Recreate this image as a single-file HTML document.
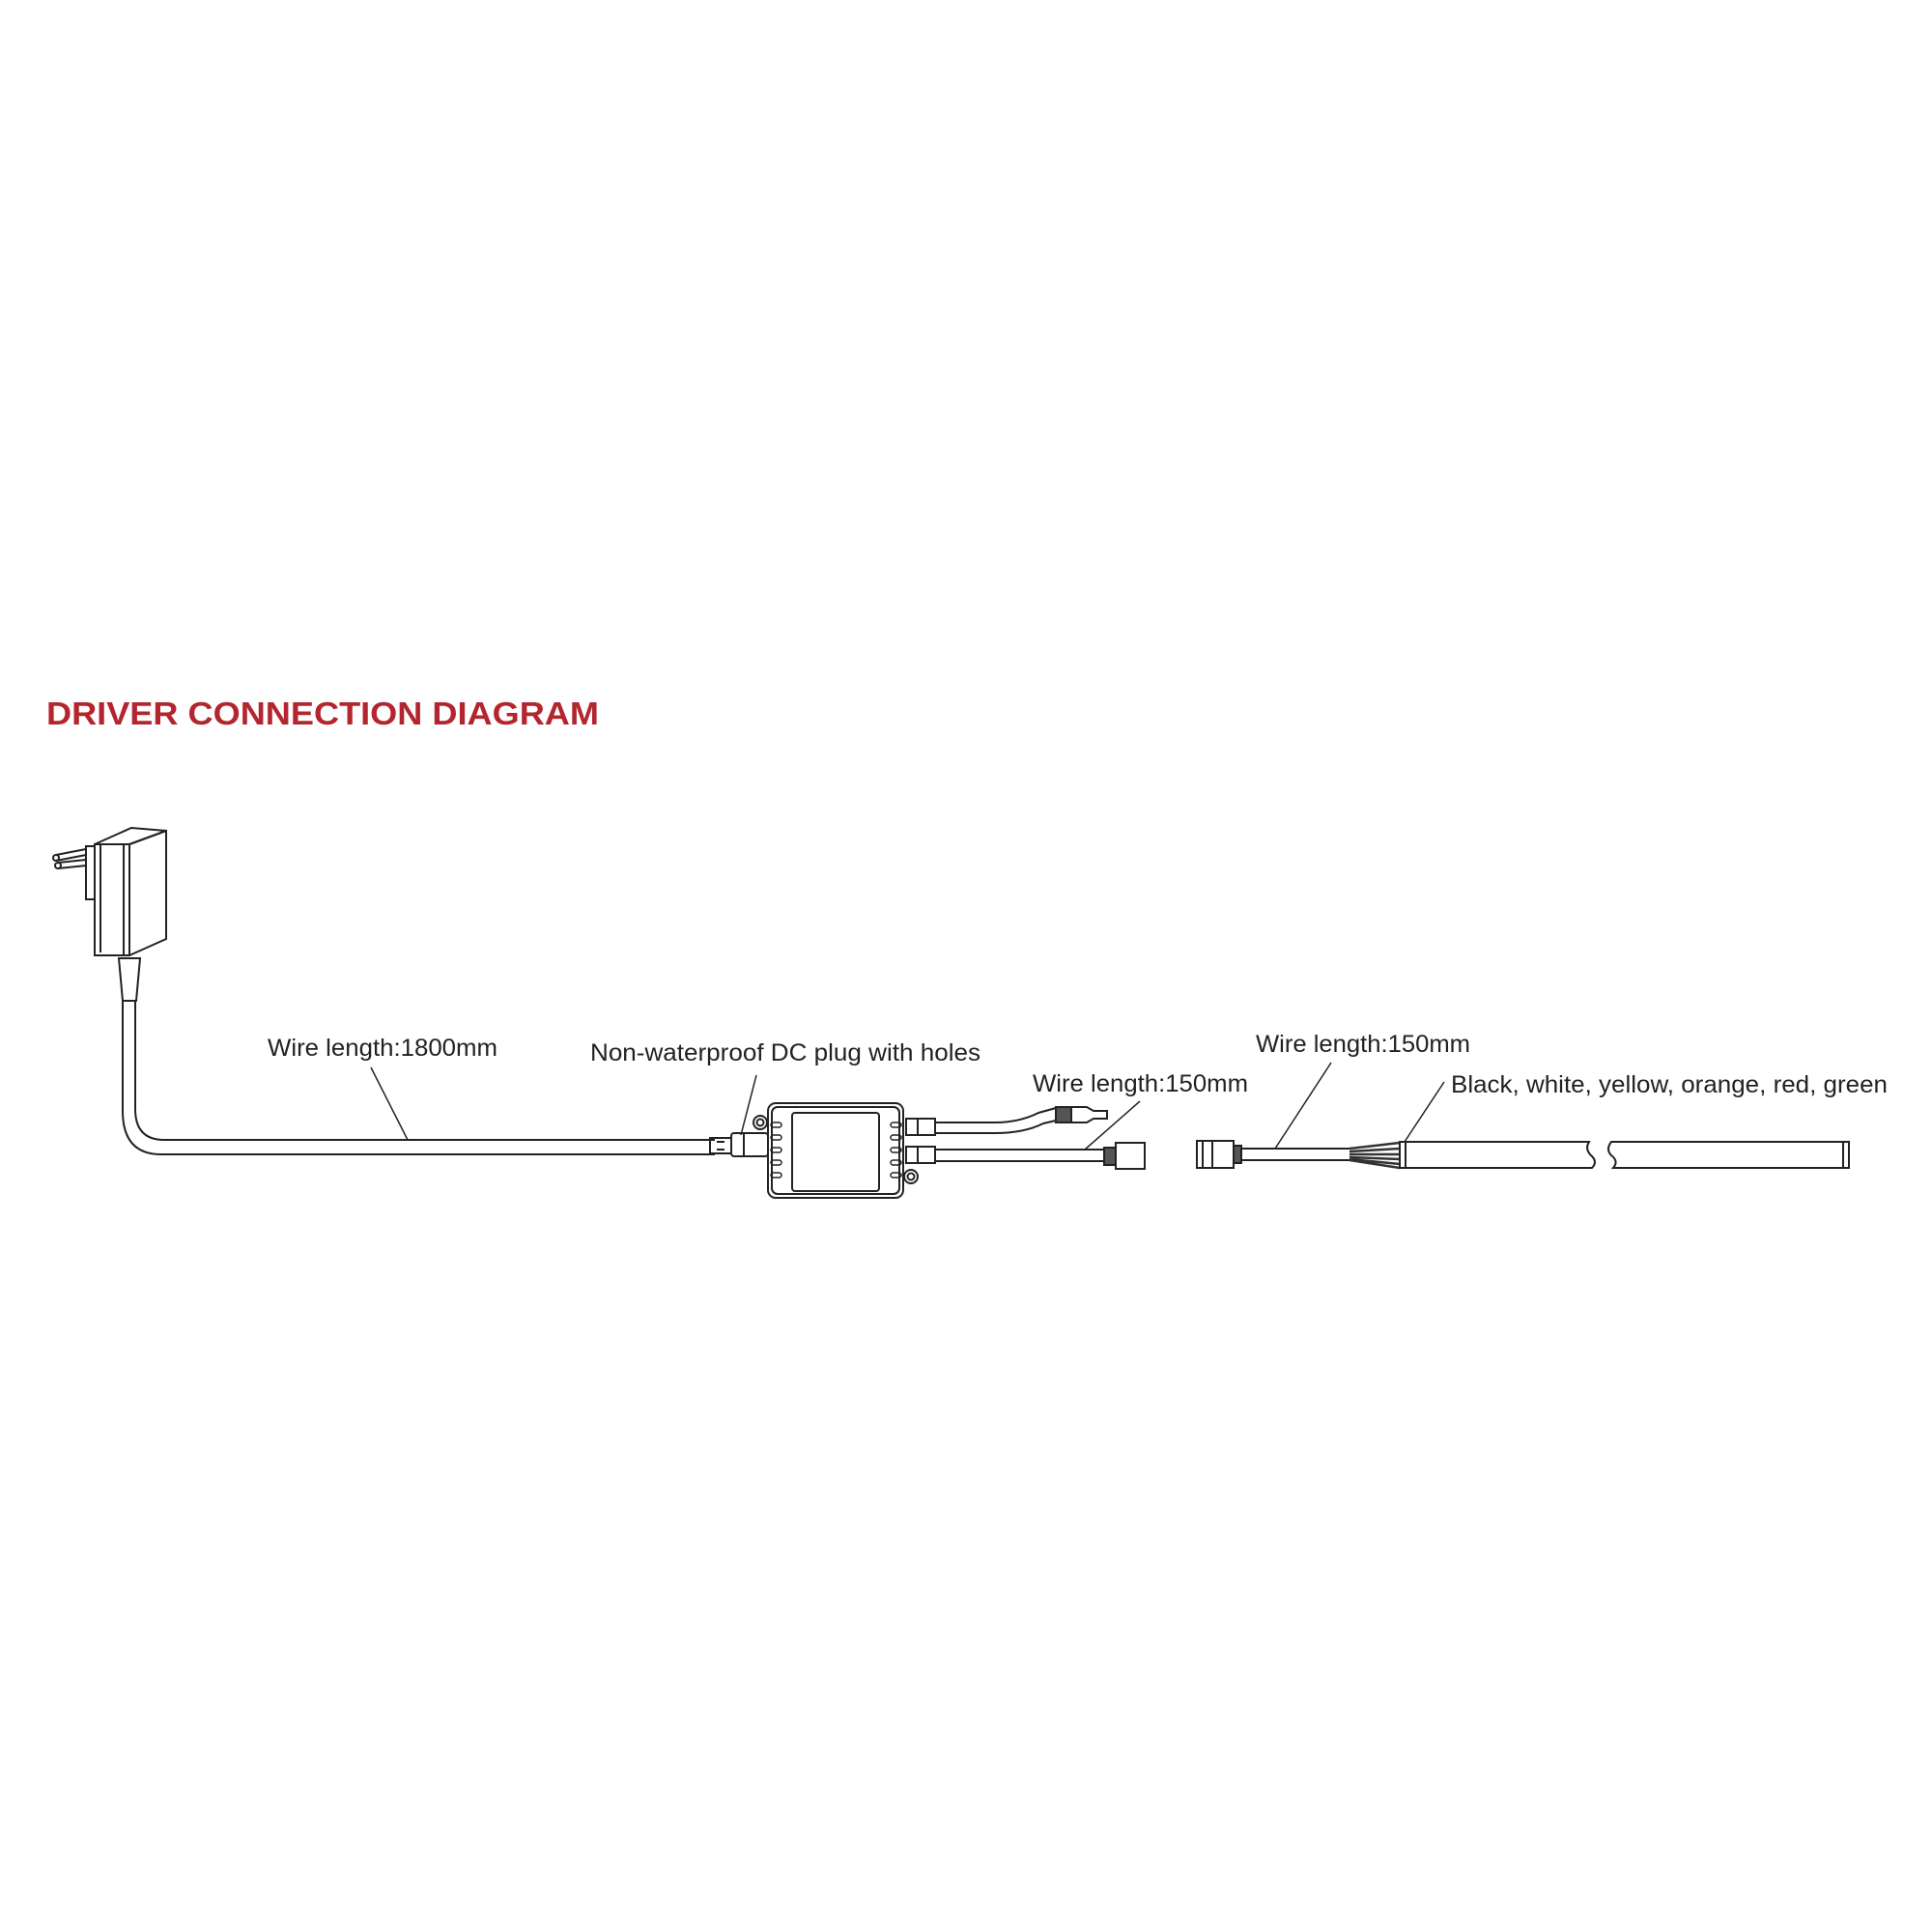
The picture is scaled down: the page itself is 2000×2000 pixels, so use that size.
<!DOCTYPE html>
<html><head><meta charset="utf-8"><style>html,body{margin:0;padding:0;background:#fff}svg{display:block}</style></head>
<body>
<svg width="2000" height="2000" viewBox="0 0 2000 2000" xmlns="http://www.w3.org/2000/svg">
<rect width="2000" height="2000" fill="#fff"/>
<text x="48" y="750" font-family="Liberation Sans, sans-serif" font-weight="bold" font-size="33" fill="#b3252f" textLength="572" lengthAdjust="spacingAndGlyphs">DRIVER CONNECTION DIAGRAM</text>
<g fill="none" stroke="#222" stroke-width="2" font-family="Liberation Sans, sans-serif">
<!-- adapter -->
<path d="M98 874 L134 874 L134 989 L98 989 Z" fill="#fff"/>
<path d="M98 874 L136 857 L172 860 L134 874"/>
<path d="M134 874 L172 860 L172 972 L134 989"/>
<path d="M104 874 L104 986 M128 874 L128 989"/>
<path d="M89 876 L98 876 L98 931 L89 931 Z"/>
<path d="M58 885 L89 879 M58 891 L89 885 M60 893 L89 890 M60 899 L89 896"/>
<circle cx="58" cy="888" r="3"/><circle cx="60" cy="896" r="3"/>
<!-- strain relief -->
<path d="M123 992 L145 992 L141 1036 L127 1036 Z"/>
<!-- main cable -->
<path d="M127 1036 L127 1150 Q127 1195 167 1195 L740 1195"/>
<path d="M140 1036 L140 1148 Q140 1180 170 1180 L740 1180"/>
<!-- DC plug -->
<rect x="735" y="1178" width="22" height="16"/>
<rect x="757" y="1173" width="38" height="24" rx="3"/>
<path d="M742 1182 L750 1182 M742 1190 L750 1190 M770 1173 L770 1197"/>
<!-- controller box -->
<rect x="795" y="1142" width="140" height="98" rx="8" fill="#fff"/>
<rect x="799" y="1146" width="132" height="90" rx="6"/>
<rect x="820" y="1152" width="90" height="81" rx="3"/>
<circle cx="787" cy="1162" r="7" fill="#fff"/><circle cx="787" cy="1162" r="3.5"/>
<circle cx="943" cy="1218" r="7" fill="#fff"/><circle cx="943" cy="1218" r="3.5"/>
<g stroke-width="1.5">
<rect x="798" y="1162" width="11" height="5" rx="2.5"/><rect x="798" y="1175" width="11" height="5" rx="2.5"/><rect x="798" y="1188" width="11" height="5" rx="2.5"/><rect x="798" y="1201" width="11" height="5" rx="2.5"/><rect x="798" y="1214" width="11" height="5" rx="2.5"/>
<rect x="922" y="1162" width="11" height="5" rx="2.5"/><rect x="922" y="1175" width="11" height="5" rx="2.5"/><rect x="922" y="1188" width="11" height="5" rx="2.5"/><rect x="922" y="1201" width="11" height="5" rx="2.5"/><rect x="922" y="1214" width="11" height="5" rx="2.5"/>
</g>
<!-- outputs -->
<rect x="938" y="1158" width="30" height="17"/><path d="M950 1158 L950 1175"/>
<rect x="938" y="1187" width="30" height="17"/><path d="M950 1187 L950 1204"/>
<path d="M968 1162 L1030 1162 Q1055 1162 1075 1152 L1093 1147"/>
<path d="M968 1173 L1030 1173 Q1060 1173 1080 1163 L1093 1160"/>
<rect x="1093" y="1146" width="16" height="16" fill="#555"/>
<path d="M1109 1146 L1125 1146 L1132 1150 L1146 1150 L1146 1158 L1132 1158 L1125 1162 L1109 1162"/>
<path d="M968 1190 L1143 1190 M968 1202 L1143 1202"/>
<rect x="1143" y="1188" width="12" height="18" fill="#555"/>
<rect x="1155" y="1183" width="30" height="27"/>
<!-- strip side -->
<rect x="1239" y="1181" width="38" height="28"/><rect x="1245" y="1181" width="10" height="28"/>
<rect x="1277" y="1186" width="8" height="18" fill="#555"/>
<path d="M1285 1189 L1397 1189 M1285 1201 L1397 1201"/>
<path d="M1397 1189 L1449 1183 M1397 1192 L1449 1189 M1397 1195 L1449 1195 M1397 1198 L1449 1200 M1397 1200 L1449 1205 M1397 1201 L1449 1209" stroke-width="2.5" stroke="#333"/>
<path d="M1449 1182 L1645 1182 Q1640 1190 1648 1197 Q1654 1203 1648 1209 L1449 1209 Z"/>
<path d="M1455 1182 L1455 1209"/>
<path d="M1668 1182 L1914 1182 L1914 1209 L1670 1209 Q1676 1202 1668 1196 Q1662 1190 1668 1182 Z"/>
<path d="M1908 1182 L1908 1209"/>
<!-- leaders -->
<path d="M384 1105 L422 1180" stroke-width="1.5"/>
<path d="M783 1113 L767 1175" stroke-width="1.5"/>
<path d="M1180 1140 L1123 1190" stroke-width="1.5"/>
<path d="M1378 1100 L1320 1189" stroke-width="1.5"/>
<path d="M1495 1120 L1454 1182" stroke-width="1.5"/>
</g>
<g font-family="Liberation Sans, sans-serif" font-size="25" fill="#222">
<text x="277" y="1093" textLength="238" lengthAdjust="spacingAndGlyphs">Wire length:1800mm</text>
<text x="611" y="1098" textLength="404" lengthAdjust="spacingAndGlyphs">Non-waterproof DC plug with holes</text>
<text x="1069" y="1130" textLength="223" lengthAdjust="spacingAndGlyphs">Wire length:150mm</text>
<text x="1300" y="1089" textLength="222" lengthAdjust="spacingAndGlyphs">Wire length:150mm</text>
<text x="1502" y="1131" textLength="452" lengthAdjust="spacingAndGlyphs">Black, white, yellow, orange, red, green</text>
</g>
</svg>
</body></html>
